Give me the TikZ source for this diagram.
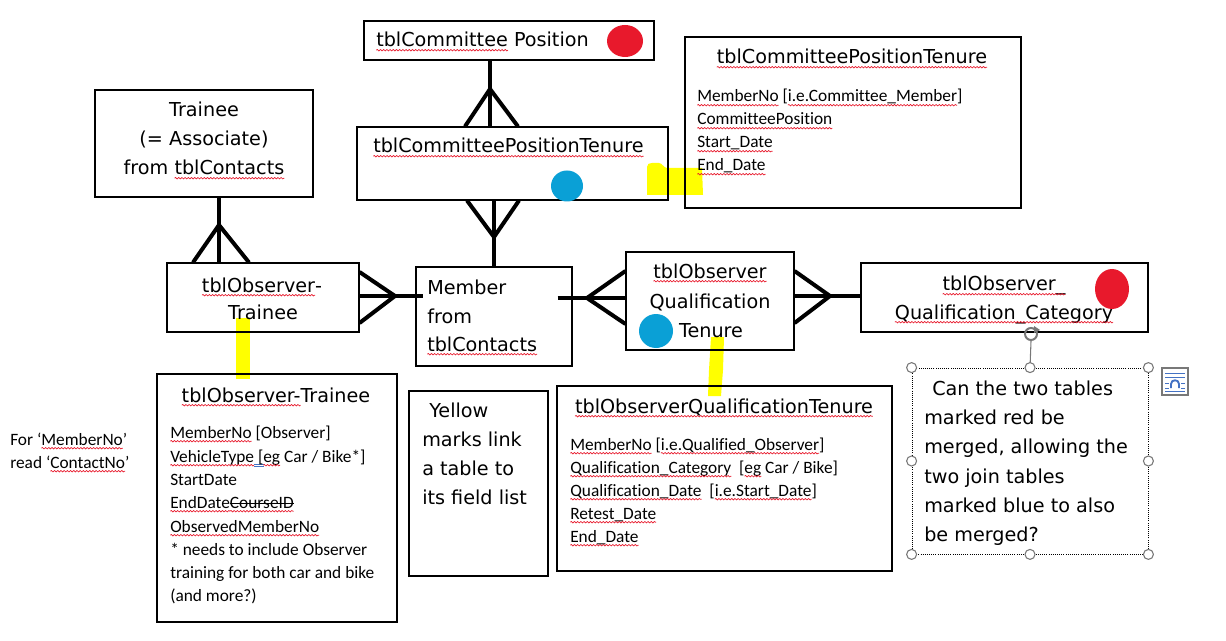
\documentclass[tikz,border=0pt]{standalone}
\usepackage{fontspec}
\setmainfont{DejaVu Sans}
\newfontfamily\fldfont[Ligatures=NoCommon]{Carlito}
\usetikzlibrary{decorations.pathmorphing,fit,calc}
\definecolor{mkred}{RGB}{232,25,44}
\definecolor{mkblue}{RGB}{10,160,214}
\definecolor{mkyellow}{RGB}{255,255,0}
\definecolor{gblue}{RGB}{68,114,196}
\definecolor{hgray}{RGB}{120,120,120}
\tikzset{
  sqline/.style={mkred,line width=0.5pt,decorate,decoration={snake,amplitude=0.55pt,segment length=2.4pt}},
  tbox/.style={draw=black,line width=0.8pt,inner sep=0pt},
  qbox/.style={draw=black,densely dotted,line width=0.6pt,inner sep=0pt},
  bigt/.style={font=\fontsize{14.4}{17}\selectfont,inner sep=0pt},
  fldt/.style={font=\fldfont\fontsize{13}{15}\selectfont,inner sep=0pt,anchor=base west},
  conn/.style={line width=3pt,black},
  handle/.style={circle,draw=hgray,fill=white,line width=0.8pt,minimum size=7.5pt,inner sep=0pt},
  rotc/.style={circle,draw=hgray,line width=1.5pt,minimum size=9pt,inner sep=0pt},
  ymark/.style={fill=mkyellow,draw=none}
}
\newcommand\sq[1]{\tikz[baseline=(sqw.base)]{\node[inner sep=0pt,outer sep=0pt,anchor=base west](sqw){#1};\draw[sqline,overlay]([yshift=-2.4pt]sqw.base west)--([yshift=-2.4pt]sqw.base east);}}
\newcommand\sqst[1]{\tikz[baseline=(sqw.base)]{\node[inner sep=0pt,outer sep=0pt,anchor=base west](sqw){#1};\draw[sqline,overlay]([yshift=-2.4pt]sqw.base west)--([yshift=-2.4pt]sqw.base east);\draw[overlay,black,line width=0.6pt]([yshift=3.2pt]sqw.base west)--([yshift=3.2pt]sqw.base east);}}
\newcommand\bsp{\rlap{\textcolor{gblue}{\rule[-2.2pt]{7.5pt}{0.45pt}}}\rlap{\textcolor{gblue}{\rule[-3.5pt]{7.5pt}{0.45pt}}}\ }
\begin{document}
\begin{tikzpicture}[x=0.75pt,y=-0.75pt]
\fill[white] (0,0) rectangle (1226,641);
\path[use as bounding box] (0,0) rectangle (1226,641);

% yellow marks (under boxes)
\fill[ymark] (647,195) -- (647,167) .. controls (647,164) and (649,163) .. (652,163) -- (659,163) .. controls (662,163) and (664,168) .. (667,168) -- (702,168) -- (703,195) -- cycle;
\fill[ymark] (236,318) rectangle (250,379);
\fill[ymark] (711,337) -- (724,337) -- (723,370) -- (721,396) -- (708,396) -- (709,370) -- cycle;

% boxes
\node[tbox,fit={(364,21)(654,60)}] (cp) {};
\node[tbox,fit={(357,127)(668,200)}] (cpt) {};
\node[tbox,fit={(685,37)(1021,208)}] (cptf) {};
\node[tbox,fit={(95,90)(313,197)}] (tr) {};
\node[tbox,fit={(167,263)(359,332)}] (ot) {};
\node[tbox,fit={(416,267)(572,366)}] (mem) {};
\node[tbox,fit={(626,252)(794,350)}] (oqt) {};
\node[tbox,fit={(861,263)(1148,332)}] (oqc) {};
\node[tbox,fit={(157,374)(397,622)}] (otf) {};
\node[tbox,fit={(409,391)(548,576)}] (yel) {};
\node[tbox,fit={(557,386)(892,571)}] (oqtf) {};
\node[qbox,fit={(912,368)(1148,554)}] (q) {};

% connectors
\coordinate (ap1) at (490,89);
\draw[conn] (cp.south -| 490,0) -- (cpt.north -| 490,0);
\draw[conn] (cpt.north -| 465,0) -- (ap1) -- (cpt.north -| 518,0);
\coordinate (ap2) at (494,237);
\draw[conn] (cpt.south -| 494,0) -- (mem.north -| 494,0);
\draw[conn] (cpt.south -| 467,0) -- (ap2) -- (cpt.south -| 519,0);
\coordinate (ap3) at (219,225);
\draw[conn] (tr.south -| 219,0) -- (ot.north -| 219,0);
\draw[conn] (ot.north -| 193,0) -- (ap3) -- (ot.north -| 249,0);
\coordinate (ap4) at (395,296);
\draw[conn] (ot.east |- 0,296) -- ($(mem.west |- 0,296)+(8,0)$);
\draw[conn] (ot.east |- 0,272) -- (ap4) -- (ot.east |- 0,323);
\coordinate (ap5) at (587,298);
\draw[conn] ($(mem.east |- 0,298)+(-15,0)$) -- (oqt.west |- 0,298);
\draw[conn] (oqt.west |- 0,271) -- (ap5) -- (oqt.west |- 0,324);
\coordinate (ap6) at (830,296);
\draw[conn] (oqt.east |- 0,296) -- (oqc.west |- 0,296);
\draw[conn] (oqt.east |- 0,271) -- (ap6) -- (oqt.east |- 0,323);

% texts
\node[bigt,anchor=base west] (cpT) at (376,47) {\sq{tblCommittee} Position};
\node[bigt,anchor=base west] (cptT) at (373,153) {\sq{tblCommitteePositionTenure}};
\node[bigt,anchor=base] (cptfT) at (852,64) {\sq{tblCommitteePositionTenure}};
\node[fldt] (cptf1) at (697,102) {\sq{MemberNo} [\sq{i.e.Committee\_Member}]};
\node[fldt] (cptf2) at (697,125) {\sq{CommitteePosition}};
\node[fldt] (cptf3) at (697,148) {\sq{Start\_Date}};
\node[fldt] (cptf4) at (697,171) {\sq{End\_Date}};

\node[bigt,anchor=base] (tr1) at (204,117) {Trainee};
\node[bigt,anchor=base] (tr2) at (204,146) {(= Associate)};
\node[bigt,anchor=base] (tr3) at (204,175) {from \sq{tblContacts}};

\node[bigt,anchor=base] (ot1) at (262,292) {\sq{tblObserver}-};
\node[bigt,anchor=base] (ot2) at (263,320) {Trainee};

\node[bigt,anchor=base west] (mem1) at (427,295) {Member};
\node[bigt,anchor=base west] (mem2) at (427,323) {from};
\node[bigt,anchor=base west] (mem3) at (427,351) {\sq{tblContacts}};

\node[bigt,anchor=base] (oqt1) at (710,278) {\sq{tblObserver}};
\node[bigt,anchor=base] (oqt2) at (710,308) {Qualification};
\node[bigt,anchor=base] (oqt3) at (711,337) {Tenure};

\node[bigt,anchor=base] (oqc1) at (1004,291) {\sq{tblObserver\_}};
\node[bigt,anchor=base] (oqc2) at (1004,319) {\sq{Qualification\_Category}};

\node[fldt] (note1) at (10,445) {For ‘\sq{MemberNo}’};
\node[fldt] (note2) at (10,468) {read ‘\sq{ContactNo}’};

\node[bigt,anchor=base] (otfT) at (276,402) {\sq{tblObserver-}Trainee};
\node[fldt] (otf1) at (170,438) {\sq{MemberNo} [Observer]};
\node[fldt] (otf2) at (170,462) {\sq{VehicleType}\bsp[\sq{eg} Car / Bike*]};
\node[fldt] (otf3) at (170,485) {StartDate};
\node[fldt] (otf4) at (170,508) {\sq{EndDate}\sqst{CourseID}};
\node[fldt] (otf5) at (170,532) {\sq{ObservedMemberNo}};
\node[fldt] (otf6) at (170,555) {* needs to include Observer};
\node[fldt] (otf7) at (170,578) {training for both car and bike};
\node[fldt] (otf8) at (170,601) {(and more?)};

\node[bigt,anchor=base west] (yel1) at (429,417) {Yellow};
\node[bigt,anchor=base west] (yel2) at (422,446) {marks link};
\node[bigt,anchor=base west] (yel3) at (422,475) {a table to};
\node[bigt,anchor=base west] (yel4) at (422,504) {its field list};

\node[bigt,anchor=base] (oqtfT) at (724,413) {\sq{tblObserverQualificationTenure}};
\node[fldt] (oqtf1) at (570,450) {\sq{MemberNo} [\sq{i.e.Qualified\_Observer}]};
\node[fldt] (oqtf2) at (570,473) {\sq{Qualification\_Category}\ \ [\sq{eg} Car / Bike]};
\node[fldt] (oqtf3) at (570,496) {\sq{Qualification\_Date}\ \ [\sq{i.e.Start\_Date}]};
\node[fldt] (oqtf4) at (570,519) {\sq{Retest\_Date}};
\node[fldt] (oqtf5) at (570,542) {\sq{End\_Date}};

\node[bigt,anchor=base west] (q1) at (932,395) {Can the two tables};
\node[bigt,anchor=base west] (q2) at (924,424) {marked red be};
\node[bigt,anchor=base west] (q3) at (924,453) {merged, allowing the};
\node[bigt,anchor=base west] (q4) at (924,483) {two join tables};
\node[bigt,anchor=base west] (q5) at (924,512) {marked blue to also};
\node[bigt,anchor=base west] (q6) at (924,541) {be merged?};

% selection handles
\node[rotc] (rh) at (1031,334) {};
\fill[hgray] (1034,326) -- (1040,330) -- (1034,333) -- cycle;
\draw[hgray,line width=0.8pt] (rh.south) -- (q.north);
\node[handle] (h1) at (q.north west) {};
\node[handle] (h2) at (q.north) {};
\node[handle] (h3) at (q.north east) {};
\node[handle] (h4) at (q.east) {};
\node[handle] (h5) at (q.south east) {};
\node[handle] (h6) at (q.south) {};
\node[handle] (h7) at (q.south west) {};
\node[handle] (h8) at (q.west) {};

% layout options icon
\node[draw=hgray,fill=white,line width=0.8pt,inner sep=0pt,fit={(1162,368)(1188,395)}] (lay) {};
\draw[gblue,line width=0.7pt] (1165,373) -- (1185,373) (1165,377) -- (1185,377)
  (1165,383) -- (1169,383) (1181,383) -- (1185,383)
  (1165,391) -- (1185,391) (1165,388) -- (1169,388) (1181,388) -- (1185,388);
\draw[gblue,line width=1.4pt] (1171,388) -- (1171,384) .. controls (1171,379) and (1179,379) .. (1179,384) -- (1179,388);

% coloured dots
\fill[mkred] (625,41) ellipse [x radius=18, y radius=16];
\fill[mkblue] (567,186) ellipse [x radius=16, y radius=15.5];
\fill[mkblue] (656,331) ellipse [x radius=17, y radius=17];
\fill[mkred] (1112,289) ellipse [x radius=17, y radius=20];
\end{tikzpicture}
\end{document}
